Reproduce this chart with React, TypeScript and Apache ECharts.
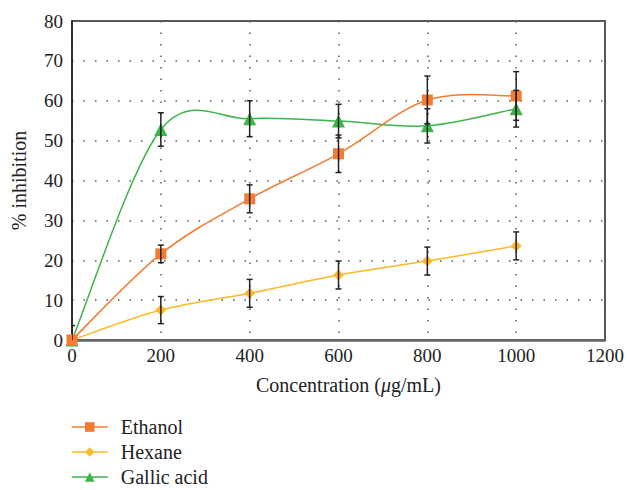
import React, { useEffect, useRef } from "react";
import * as echarts from "echarts";

const concentrations = [0, 200, 400, 600, 800, 1000];
const ethanol = [0, 21.6, 35.4, 46.7, 60.2, 61.2];
const ethanolErr = [0, 2.2, 3.5, 4.7, 6.0, 6.1];
const hexane = [0, 7.5, 11.7, 16.3, 19.8, 23.6];
const hexaneErr = [0, 3.4, 3.5, 3.5, 3.5, 3.5];
const gallic = [0, 52.8, 55.5, 54.9, 53.7, 58.0];
const gallicErr = [3.6, 4.2, 4.5, 4.2, 4.3, 4.6];

const xTicks = { min: 0, max: 1200, interval: 200 };
const yTicks = { min: 0, max: 80, interval: 10 };

const FONT = "Liberation Serif";
const ORANGE = "#F47B30";
const YELLOW = "#FDB827";
const GREEN = "#3DB54A";

function errData(vals: number[], errs: number[]) {
  return concentrations
    .map((c, i) => [c, vals[i], vals[i] - errs[i], vals[i] + errs[i]])
    .filter((d, i) => errs[i] > 0);
}

function renderErr(params: any, api: any) {
  const x = api.value(0);
  const lo = api.coord([x, api.value(2)]);
  const hi = api.coord([x, api.value(3)]);
  const w = 3;
  const style = { stroke: "#222", lineWidth: 1.5 };
  return {
    type: "group",
    children: [
      { type: "line", shape: { x1: lo[0], y1: lo[1], x2: hi[0], y2: hi[1] }, style },
      { type: "line", shape: { x1: lo[0] - w, y1: lo[1], x2: lo[0] + w, y2: lo[1] }, style },
      { type: "line", shape: { x1: hi[0] - w, y1: hi[1], x2: hi[0] + w, y2: hi[1] }, style },
    ],
  };
}

// Catmull-Rom style smoothed curve (like a spreadsheet "smoothed line"), in pixel space via the axes' scales
function curveRenderer(vals: number[], color: string) {
  return (params: any, api: any) => {
    const pts = concentrations.map((c, k) => api.coord([c, vals[k]]));
    const n = pts.length;
    const children: any[] = [];
    for (let i = 0; i < n - 1; i++) {
      const p0 = pts[Math.max(0, i - 1)];
      const p1 = pts[i];
      const p2 = pts[i + 1];
      const p3 = pts[Math.min(n - 1, i + 2)];
      const cp1 = [p1[0] + (p2[0] - p0[0]) / 6, p1[1] + (p2[1] - p0[1]) / 6];
      const cp2 = [p2[0] - (p3[0] - p1[0]) / 6, p2[1] - (p3[1] - p1[1]) / 6];
      children.push({
        type: "bezierCurve",
        shape: { x1: p1[0], y1: p1[1], cpx1: cp1[0], cpy1: cp1[1], cpx2: cp2[0], cpy2: cp2[1], x2: p2[0], y2: p2[1] },
        style: { stroke: color, lineWidth: 1.5, fill: "none" },
      });
    }
    return { type: "group", children };
  };
}

const labelStyle = {
  fontFamily: FONT,
  fontSize: 19,
  color: "#222",
  formatter: (v: number) => "{s|" + v + "}",
  rich: { s: { fontFamily: FONT, fontSize: 19, color: "#222" } },
};

export default function App() {
  const ref = useRef<HTMLDivElement>(null);
  useEffect(() => {
    const chart = echarts.init(ref.current!, null, { renderer: "svg" });
    const markerSeries = (name: string, vals: number[], color: string, symbol: string, size: number) => ({
      name,
      type: "line",
      data: concentrations.map((c, i) => [c, vals[i]]),
      symbol,
      symbolSize: size,
      showSymbol: true,
      clip: false,
      itemStyle: { color },
      lineStyle: { color, width: 1.5, opacity: 0 },
      z: 3,
    });
    const curveSeries = (vals: number[], color: string) => ({
      type: "custom",
      renderItem: curveRenderer(vals, color),
      data: [[0, 0]],
      silent: true,
      z: 2,
    });
    const errSeries = (vals: number[], errs: number[]) => ({
      type: "custom",
      renderItem: renderErr,
      data: errData(vals, errs),
      clip: true,
      z: 5,
      silent: true,
    });
    const legendItem = (name: string, color: string) => ({
      name,
      lineStyle: { color, width: 1.5, opacity: 1 },
      itemStyle: { color },
    });
    chart.setOption({
      animation: false,
      backgroundColor: "#fff",
      textStyle: { fontFamily: FONT },
      grid: {
        left: 72,
        top: 21,
        right: 22,
        bottom: 150,
        show: true,
        borderColor: "#222",
        borderWidth: 1.5,
        backgroundColor: "transparent",
      },
      legend: {
        orient: "vertical",
        left: 71,
        top: 416,
        bottom: 0,
        padding: 0,
        itemGap: 3,
        itemWidth: 36,
        itemHeight: 12,
        data: [legendItem("Ethanol", ORANGE), legendItem("Hexane", YELLOW), legendItem("Gallic acid", GREEN)],
        textStyle: { fontFamily: FONT, fontSize: 20, color: "#222", padding: [0, 0, 0, 8], lineHeight: 22 },
      },
      xAxis: {
        type: "value",
        ...xTicks,
        name: "Concentration ({i|μ}g/mL)",
        nameLocation: "middle",
        nameGap: 35,
        nameTextStyle: {
          fontFamily: FONT,
          fontSize: 20,
          color: "#222",
          padding: [0, 0, 0, 20],
          rich: { i: { fontFamily: FONT, fontStyle: "italic", fontSize: 20, color: "#222" } },
        },
        axisLine: { show: true, onZero: false, lineStyle: { color: "#666", width: 2.5 } },
        axisTick: { show: false },
        axisLabel: { ...labelStyle, margin: 6 },
        splitLine: { show: true, lineStyle: { color: "#555", type: [1.5, 10], width: 1.5 } },
      },
      yAxis: {
        type: "value",
        ...yTicks,
        name: "% inhibition",
        nameLocation: "middle",
        nameGap: 43,
        nameRotate: 90,
        nameTextStyle: { fontFamily: FONT, fontSize: 20, color: "#222" },
        axisLine: { show: true, lineStyle: { color: "#222", width: 1.5 } },
        axisTick: { show: false },
        axisLabel: { ...labelStyle, margin: 9 },
        splitLine: { show: true, lineStyle: { color: "#555", type: [1.5, 10], width: 1.5 } },
      },
      series: [
        curveSeries(gallic, GREEN),
        curveSeries(hexane, YELLOW),
        curveSeries(ethanol, ORANGE),
        markerSeries("Gallic acid", gallic, GREEN, "triangle", 13),
        markerSeries("Hexane", hexane, YELLOW, "diamond", 11),
        markerSeries("Ethanol", ethanol, ORANGE, "rect", 11),
        errSeries(gallic, gallicErr),
        errSeries(hexane, hexaneErr),
        errSeries(ethanol, ethanolErr),
      ],
    });
    return () => chart.dispose();
  }, []);
  return <div ref={ref} style={{ position: "absolute", left: 0, top: 0, width: 627, height: 490 }} />;
}
